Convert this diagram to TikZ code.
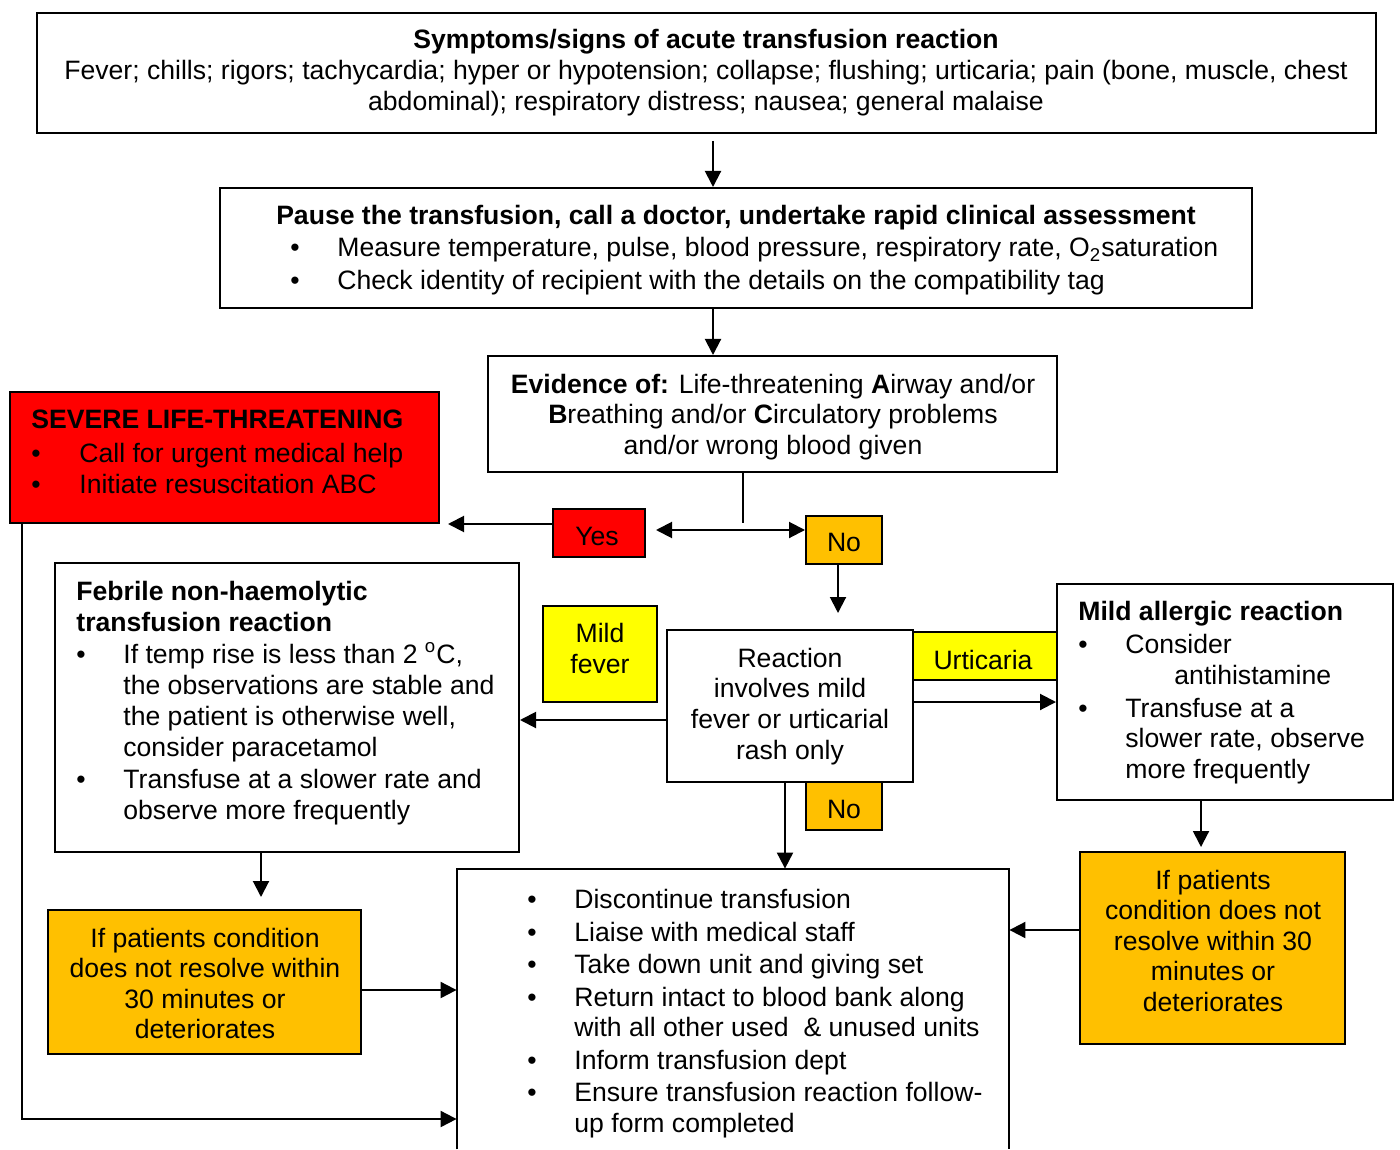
\documentclass[tikz,border=0pt]{standalone}
\usepackage{fontspec}
\setmainfont{Liberation Sans}
\usetikzlibrary{arrows.meta}
\definecolor{sred}{HTML}{FF0000}
\definecolor{sorange}{HTML}{FFC000}
\definecolor{syellow}{HTML}{FFFF00}
\newcommand{\fs}{\fontsize{13.3}{15.25}\selectfont}
\newcommand{\bul}{\makebox[23.5pt][l]{\textbullet}}
\newcommand{\ind}{\hspace*{23.5pt}}
\begin{document}
\begin{tikzpicture}[x=0.5pt,y=-0.5pt,
  box/.style={draw, line width=1pt, inner sep=0pt},
  txt/.style={inner sep=0pt, font=\fs},
  arr/.style={line width=1pt, -{Triangle[length=8pt,width=8pt]}},
  dbl/.style={line width=1pt, {Triangle[length=8pt,width=8pt]}-{Triangle[length=8pt,width=8pt]}},
  ln/.style={line width=1pt}]
\useasboundingbox (0,0) rectangle (1400,1149);

% boxes
\node[box, minimum width=669.5pt, minimum height=60pt] (b1) at (706.5,73) {};
\node[box, minimum width=516pt, minimum height=60pt] (b2) at (736,248) {};
\node[box, minimum width=284.5pt, minimum height=58pt] (b3) at (772.5,414) {};
\node[box, fill=sred, minimum width=214.5pt, minimum height=65.5pt] (red) at (224.5,457.5) {};
\node[box, fill=sred, minimum width=46pt, minimum height=24pt] (yes) at (599,533) {};
\node[box, fill=sorange, minimum width=38pt, minimum height=24pt] (no) at (844,540) {};
\node[box, minimum width=232pt, minimum height=144.5pt] (feb) at (287,707.5) {};
\node[box, fill=syellow, minimum width=57pt, minimum height=48pt] (mf) at (600,654) {};
\node[box, fill=syellow, minimum width=72pt, minimum height=24pt] (urt) at (985,656) {};
\node[box, minimum width=123pt, minimum height=76pt] (react) at (790,706) {};
\node[box, minimum width=168pt, minimum height=108pt] (mild) at (1225,692) {};
\node[box, fill=sorange, minimum width=38pt, minimum height=24pt] (no2) at (844,806) {};
\node[box, fill=sorange, minimum width=132.5pt, minimum height=96pt] (ro) at (1212.5,948) {};
\node[box, fill=sorange, minimum width=156.5pt, minimum height=72pt] (lo) at (204.5,982) {};
\node[inner sep=0pt, minimum width=276pt, minimum height=140pt] (bot) at (733,1009) {};
\draw[ln] (bot.south west) -- (bot.north west) -- (bot.north east) -- (bot.south east);

% texts (anchor base = baseline of the last line)
\node[txt, anchor=base, align=center, font={\fontsize{13.3}{15.5}\selectfont}] (t1) at (706,110.5)
 {\textbf{Symptoms/signs of acute transfusion reaction}\\
  Fever; chills; rigors; tachycardia; hyper or hypotension; collapse; flushing; urticaria; pain (bone, muscle, chest\\
  abdominal); respiratory distress; nausea; general malaise};
\node[txt, anchor=base] (t2) at (736,225)
 {\textbf{Pause the transfusion, call a doctor, undertake rapid clinical assessment}};
\node[txt, anchor=base west, align=left, font={\fontsize{13.3}{16.5}\selectfont}] (t2b) at (290,290)
 {\bul Measure temperature, pulse, blood pressure, respiratory rate, O\textsubscript{2}saturation\\
  \bul Check identity of recipient with the details on the compatibility tag};
\node[txt, anchor=base, align=center] (t3) at (773,454)
 {\textbf{Evidence of:} Life-threatening \textbf{A}irway and/or\\
  \textbf{B}reathing and/or \textbf{C}irculatory problems\\
  and/or wrong blood given};
\node[txt, anchor=base west, align=left] (tred) at (31,493.5)
 {\textbf{SEVERE LIFE-THREATENING}\\[1.75pt]
  \makebox[24pt][l]{\textbullet}Call for urgent medical help\\[0.25pt]
  \makebox[24pt][l]{\textbullet}Initiate resuscitation ABC};
\node[txt, anchor=base] (tyes) at (597,545.5) {Yes};
\node[txt, anchor=base] (tno) at (844,551.5) {No};
\node[txt, anchor=base] (tno2) at (844,818.5) {No};
\node[txt, anchor=base west, align=left, font={\fontsize{13.3}{15.5}\selectfont}] (tfeb) at (76,819)
 {\textbf{Febrile non-haemolytic}\\
  \textbf{transfusion reaction}\\[0.5pt]
  \bul If temp rise is less than 2 \textsuperscript{o}C,\\
  \ind the observations are stable and\\
  \ind the patient is otherwise well,\\
  \ind consider paracetamol\\[0.5pt]
  \bul Transfuse at a slower rate and\\
  \ind observe more frequently};
\node[txt, anchor=base, align=center] (tmf) at (600,673) {Mild\\fever};
\node[txt, anchor=base, align=center, font={\fontsize{13.3}{15.3}\selectfont}] (treact) at (790,759)
 {Reaction\\involves mild\\fever or urticarial\\rash only};
\node[txt, anchor=base] (turt) at (983,669) {Urticaria};
\node[txt, anchor=base west, align=left] (tmild) at (1078,778)
 {\textbf{Mild allergic reaction}\\[1.25pt]
  \bul Consider\\
  \hspace*{48pt}antihistamine\\[1.25pt]
  \bul Transfuse at a\\
  \ind slower rate, observe\\
  \ind more frequently};
\node[txt, anchor=base west, align=left] (tbot) at (527,1132)
 {\bul Discontinue transfusion\\[1pt]
  \bul Liaise with medical staff\\[1pt]
  \bul Take down unit and giving set\\[1pt]
  \bul Return intact to blood bank along\\
  \ind with all other used\ \ \& unused units\\[1pt]
  \bul Inform transfusion dept\\[1pt]
  \bul Ensure transfusion reaction follow-\\
  \ind up form completed};
\node[txt, anchor=base, align=center] (tro) at (1213,1011)
 {If patients\\condition does not\\resolve within 30\\minutes or\\deteriorates};
\node[txt, anchor=base, align=center] (tlo) at (205,1038.5)
 {If patients condition\\does not resolve within\\30 minutes or\\deteriorates};

% connectors
\coordinate (c1) at (713,0);
\draw[arr, shorten <=3.5pt] (b1.south -| c1) -- (b2.north -| c1);
\draw[arr] (b2.south -| c1) -- (b3.north -| c1);
\coordinate (j) at (743,523);
\draw[ln] (b3.south -| j) -- (j);
\coordinate (jy) at (743,530);
\draw[dbl, shorten <=5pt] (yes.east |- jy) -- (no.west |- jy);
\draw[arr, shorten >=4pt] (yes.west |- red.south east) -- (red.south east);
\coordinate (lft) at (22,1119);
\draw[arr] (red.south -| lft) -- (lft) -- (bot.west |- lft);
\coordinate (c3) at (838,0);
\draw[arr, shorten >=8pt] (no.south -| c3) -- (react.north -| c3);
\coordinate (fy) at (0,720);
\draw[arr] (react.west |- fy) -- (feb.east |- fy);
\coordinate (my) at (0,702);
\draw[arr] (react.east |- my) -- (mild.west |- my);
\coordinate (c4) at (785,0);
\draw[arr] (react.south -| c4) -- (bot.north -| c4);
\coordinate (c5) at (1201,0);
\draw[arr, shorten >=2pt] (mild.south -| c5) -- (ro.north -| c5);
\coordinate (ry) at (0,930);
\draw[arr] (ro.west |- ry) -- (bot.east |- ry);
\coordinate (c6) at (261,0);
\draw[arr, shorten >=6pt] (feb.south -| c6) -- (lo.north -| c6);
\coordinate (ly) at (0,990);
\draw[arr] (lo.east |- ly) -- (bot.west |- ly);
\end{tikzpicture}
\end{document}
